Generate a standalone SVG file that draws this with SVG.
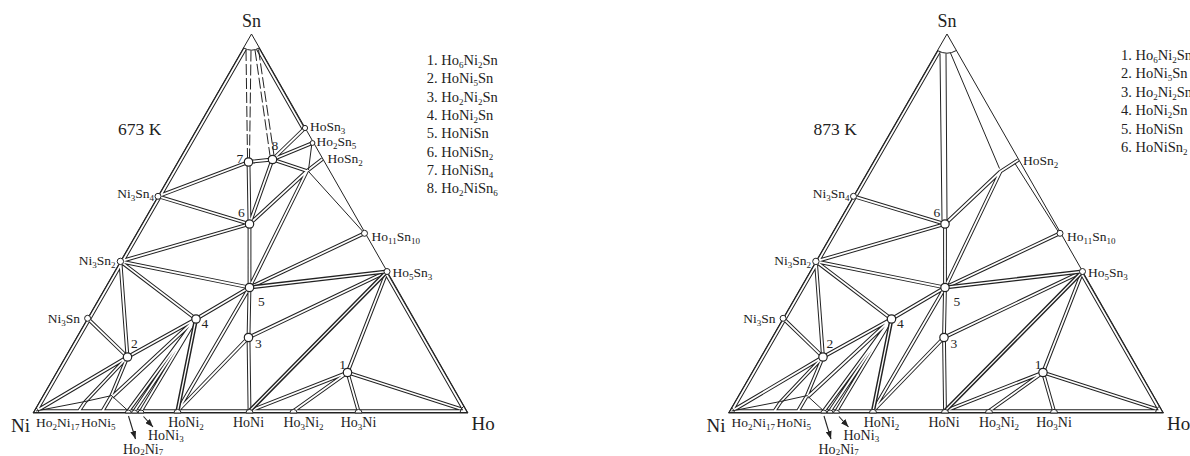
<svg xmlns="http://www.w3.org/2000/svg" xmlns:xlink="http://www.w3.org/1999/xlink" width="1190" height="456" viewBox="0 0 1190 456">
  <style>
    .lbl{font-family:"Liberation Serif","Times New Roman",serif;fill:#222}
    .t14{font-size:14px}
    .t13{font-size:13.5px}
    .big{font-size:19px}
    .num{font-size:13.5px}
    .leg{font-size:14.5px}
    .sb{font-size:9px}
    .nd{fill:#fff;stroke:#222;stroke-width:1.2}
    .bn{fill:#fff;stroke:#222;stroke-width:1}
    .thin{fill:none;stroke:#222;stroke-width:1}
    .dash{fill:none;stroke:#222;stroke-width:1;stroke-dasharray:11 3}
    .arr{fill:none;stroke:#222;stroke-width:1.1}
  </style>
  <defs>
    <marker id="ah" viewBox="0 0 8 6" refX="8" refY="3" markerWidth="8" markerHeight="6" orient="auto" markerUnits="userSpaceOnUse">
      <path d="M0,0 L8,3 L0,6 Z" fill="#222"/>
    </marker>
  </defs>
  <rect width="1190" height="456" fill="#fff"/>

  <!-- ===================== 673 K section ===================== -->
  <g id="section673">
    <g id="connectors673">
      <!-- two-phase fields drawn as double lines: dark wide stroke, then a white core -->
      <g fill="none" stroke="#222" stroke-width="3.8" stroke-linejoin="miter">
        <path id="tie673" d="M245.1,48.8 L36.1,411.2 L464.9,411.2 L385.4,272.4
          M257.8,48.8 L303.4,128.9
          M158,196.3 L248.5,162 M158,196.3 L249.5,224
          M248.5,162 L272.5,159.5 M248.5,162 L249.5,224
          M272.5,159.5 L305,128 M272.5,159.5 L312.5,143 M272.5,159.5 L307,171 M272.5,159.5 L249.5,224
          M322.5,159 L307,171
          M249.5,224 L307,171 M249.5,224 L120.4,261.4 M249.5,224 L249.5,287.5
          M307,171 L249.5,287.5
          M249.5,287.5 L364.5,233.3 M249.5,287.5 L120.4,261.4 M249.5,287.5 L196,319
          M249.5,287.5 L248.5,337.5 M249.5,287.5 L177.5,411
          M248.5,337.5 L177.5,411 M248.5,337.5 L387,271.5 M248.5,337.5 L249.5,411
          M249.5,411 L347.5,372.5 M293.5,411 L347.5,372.5 M358.5,411 L347.5,372.5
          M347.5,372.5 L387,271.5 M347.5,372.5 L461,409
          M196,319 L120.4,261.4 M196,319 L127.5,357 M196,319 L141,411 M196,319 L134.5,411
          M196,319 L128.3,411 M196,319 L112,397
          M127.5,357 L120.4,261.4 M127.5,357 L87.6,318.3 M127.5,357 L38,410
          M127.5,357 L85,402 M127.5,357 L111,396.5
          M79,411 L85,402 M102.5,411 L111,396.5"/>
      </g>
      <use xlink:href="#tie673" href="#tie673" fill="none" stroke="#fff" stroke-width="1.8"/>
      <g fill="none" stroke="#222" stroke-width="4.2">
        <path id="heavy673" d="M249.5,287.5 L387,271.5 M249.5,411 L387,271.5 M196,319 L177.5,411"/>
      </g>
      <use xlink:href="#heavy673" href="#heavy673" fill="none" stroke="#fff" stroke-width="1.3"/>
      <!-- single boundaries -->
      <path class="thin" d="M36,411 L85,401.5 L112,395.5 M112,396 L128.3,411 M311.8,144 L308.5,170 M309,172 L364.5,233.3"/>
      <!-- outline of the composition triangle -->
      <path class="thin" stroke-width="1.1" d="M251.5,34 L33,413 L468,413 Z"/>
      <!-- liquid field at the Sn corner and solid solutions at the Ni and Ho corners -->
      <path class="thin" d="M243.5,47.9 A16,16 0 0 0 259.4,47.9 M39,413 A6,6 0 0 0 36,407.8 M460,413 A8,8 0 0 1 464,406.1"/>
      <!-- tentative tie lines -->
      <path class="dash" d="M246,50 L247.5,158 M251,50.5 L249.5,158 M255,50 L270,155.5 M258.5,49.5 L274,155.5"/>
      <!-- pointers to the crowded binary compounds -->
      <path class="arr" marker-end="url(#ah)" d="M128.5,416 L135.5,439"/>
      <path class="arr" marker-end="url(#ah)" d="M143.5,416.5 L153,427"/>
    </g>

    <!-- corners -->
    <g id="c673-Sn"><text class="lbl" x="251.5" y="27" font-size="18" text-anchor="middle">Sn</text></g>
    <g id="c673-Ni"><text class="lbl big" x="11" y="432">Ni</text></g>
    <g id="c673-Ho"><text class="lbl big" x="471.5" y="430">Ho</text></g>
    <text class="lbl" x="118" y="135" font-size="17.5">673 K</text>

    <!-- binary compounds, Ni–Sn side -->
    <g id="n673-Ni3Sn4"><circle class="bn" cx="158" cy="196.3" r="3"/>
      <text class="lbl t13" x="154" y="197.5" text-anchor="end">Ni<tspan class="sb" dy="3">3</tspan><tspan dy="-3">Sn</tspan><tspan class="sb" dy="3">4</tspan></text></g>
    <g id="n673-Ni3Sn2"><circle class="bn" cx="120.4" cy="261.4" r="3.2"/>
      <text class="lbl t13" x="115.5" y="265" text-anchor="end">Ni<tspan class="sb" dy="3">3</tspan><tspan dy="-3">Sn</tspan><tspan class="sb" dy="3">2</tspan></text></g>
    <g id="n673-Ni3Sn"><circle class="bn" cx="87.6" cy="318.3" r="3"/>
      <text class="lbl t13" x="80" y="323" text-anchor="end">Ni<tspan class="sb" dy="3">3</tspan><tspan dy="-3">Sn</tspan></text></g>

    <!-- binary compounds, Ho–Sn side -->
    <g id="n673-HoSn3"><circle class="bn" cx="305" cy="128" r="2.6"/>
      <text class="lbl t13" x="310" y="131">HoSn<tspan class="sb" dy="2.5">3</tspan></text></g>
    <g id="n673-Ho2Sn5"><circle class="bn" cx="312.5" cy="143" r="2.4"/>
      <text class="lbl t13" x="316.5" y="146">Ho<tspan class="sb" dy="2.5">2</tspan><tspan dy="-2.5">Sn</tspan><tspan class="sb" dy="2.5">5</tspan></text></g>
    <g id="n673-HoSn2">
      <text class="lbl t13" x="327.5" y="163">HoSn<tspan class="sb" dy="3">2</tspan></text></g>
    <g id="n673-Ho11Sn10"><circle class="bn" cx="364.5" cy="233.3" r="3"/>
      <text class="lbl t13" x="371.5" y="240.5">Ho<tspan class="sb" dy="3">11</tspan><tspan dy="-3">Sn</tspan><tspan class="sb" dy="3">10</tspan></text></g>
    <g id="n673-Ho5Sn3"><circle class="bn" cx="387" cy="271.5" r="3"/>
      <text class="lbl t13" x="392.5" y="277">Ho<tspan class="sb" dy="3">5</tspan><tspan dy="-3">Sn</tspan><tspan class="sb" dy="3">3</tspan></text></g>

    <!-- binary compounds, Ni–Ho side -->
    <g id="n673-Ho2Ni17"><text class="lbl t13" x="36" y="426.5">Ho<tspan class="sb" dy="3">2</tspan><tspan dy="-3">Ni</tspan><tspan class="sb" dy="3">17</tspan></text></g>
    <g id="n673-HoNi5"><text class="lbl t13" x="81" y="426.5">HoNi<tspan class="sb" dy="3">5</tspan></text></g>
    <g id="n673-Ho2Ni7"><path class="bn" d="M125.3,413 A3,3 0 0 1 131.3,413 Z"/>
      <text class="lbl t14" x="123" y="453.5">Ho<tspan class="sb" dy="1.5">2</tspan><tspan dy="-1.5">Ni</tspan><tspan class="sb" dy="1.5">7</tspan></text></g>
    <g id="n673-mid"><path class="bn" d="M131.6,413 A3,3 0 0 1 137.6,413 Z"/></g>
    <g id="n673-HoNi3"><path class="bn" d="M138,413 A3,3 0 0 1 144,413 Z"/>
      <text class="lbl t14" x="148" y="439.5">HoNi<tspan class="sb" dy="2">3</tspan></text></g>
    <g id="n673-HoNi2"><path class="bn" d="M173.9,413 A3.6,3.6 0 0 1 181.1,413 Z"/>
      <text class="lbl t14" x="186" y="426.5" text-anchor="middle">HoNi<tspan class="sb" dy="3">2</tspan></text></g>
    <g id="n673-HoNi"><path class="bn" d="M245.9,413 A3.6,3.6 0 0 1 253.1,413 Z"/>
      <text class="lbl t14" x="248.5" y="426.5" text-anchor="middle">HoNi</text></g>
    <g id="n673-Ho3Ni2"><path class="bn" d="M289.9,413 A3.6,3.6 0 0 1 297.1,413 Z"/>
      <text class="lbl t14" x="303.5" y="426.5" text-anchor="middle">Ho<tspan class="sb" dy="3">3</tspan><tspan dy="-3">Ni</tspan><tspan class="sb" dy="3">2</tspan></text></g>
    <g id="n673-Ho3Ni"><path class="bn" d="M354.9,413 A3.6,3.6 0 0 1 362.1,413 Z"/>
      <text class="lbl t14" x="358.5" y="426.5" text-anchor="middle">Ho<tspan class="sb" dy="3">3</tspan><tspan dy="-3">Ni</tspan></text></g>

    <!-- ternary compounds -->
    <g id="n673-1"><circle class="nd" cx="347.5" cy="372.5" r="4.2"/><text class="lbl num" x="339.3" y="369.3">1</text></g>
    <g id="n673-2"><circle class="nd" cx="127.5" cy="357" r="4.2"/><text class="lbl num" x="131" y="348.3">2</text></g>
    <g id="n673-3"><circle class="nd" cx="248.5" cy="337.5" r="4.2"/><text class="lbl num" x="255" y="348.3">3</text></g>
    <g id="n673-4"><circle class="nd" cx="196" cy="319" r="4.2"/><text class="lbl num" x="201.5" y="328">4</text></g>
    <g id="n673-5"><circle class="nd" cx="249.5" cy="287.5" r="4.2"/><text class="lbl num" x="258" y="305.5">5</text></g>
    <g id="n673-6"><circle class="nd" cx="249.5" cy="224" r="4.2"/><text class="lbl num" x="238" y="216.5">6</text></g>
    <g id="n673-7"><circle class="nd" cx="248.5" cy="162" r="4.2"/><text class="lbl num" x="236.5" y="163">7</text></g>
    <g id="n673-8"><circle class="nd" cx="272.5" cy="159.5" r="4.2"/><text class="lbl num" x="271.5" y="150">8</text></g>

    <g id="legend673" class="lbl leg">
      <text x="426.7" y="65">1. Ho<tspan class="sb" dy="3">6</tspan><tspan dy="-3">Ni</tspan><tspan class="sb" dy="3">2</tspan><tspan dy="-3">Sn</tspan></text>
      <text x="426.7" y="83.3">2. HoNi<tspan class="sb" dy="3">5</tspan><tspan dy="-3">Sn</tspan></text>
      <text x="426.7" y="101.6">3. Ho<tspan class="sb" dy="3">2</tspan><tspan dy="-3">Ni</tspan><tspan class="sb" dy="3">2</tspan><tspan dy="-3">Sn</tspan></text>
      <text x="426.7" y="119.9">4. HoNi<tspan class="sb" dy="3">2</tspan><tspan dy="-3">Sn</tspan></text>
      <text x="426.7" y="138.2">5. HoNiSn</text>
      <text x="426.7" y="156.5">6. HoNiSn<tspan class="sb" dy="3">2</tspan></text>
      <text x="426.7" y="174.8">7. HoNiSn<tspan class="sb" dy="3">4</tspan></text>
      <text x="426.7" y="193.1">8. Ho<tspan class="sb" dy="3">2</tspan><tspan dy="-3">NiSn</tspan><tspan class="sb" dy="3">6</tspan></text>
    </g>
  </g>

  <!-- ===================== 873 K section ===================== -->
  <g id="section873" transform="translate(695.5,0)">
    <g id="connectors873">
      <g fill="none" stroke="#222" stroke-width="3.8" stroke-linejoin="miter">
        <path id="tie873" d="M243.6,51.4 L36.1,411.2 L464.9,411.2 L385.4,272.4
          M249.5,224 L158,196.3
          M322.8,160 L305,171.5
          M249.5,224 L305,171.5 M249.5,224 L120.4,261.4 M249.5,224 L249.5,287.5
          M305,171.5 L249.5,287.5
          M249.5,287.5 L364.5,233.3 M249.5,287.5 L120.4,261.4 M249.5,287.5 L196,319
          M249.5,287.5 L248.5,337.5 M249.5,287.5 L177.5,411
          M248.5,337.5 L177.5,411 M248.5,337.5 L387,271.5 M248.5,337.5 L249.5,411
          M249.5,411 L347.5,372.5 M293.5,411 L347.5,372.5 M358.5,411 L347.5,372.5
          M347.5,372.5 L387,271.5 M347.5,372.5 L461,409
          M196,319 L120.4,261.4 M196,319 L127.5,357 M196,319 L141,411 M196,319 L134.5,411
          M196,319 L128.3,411 M196,319 L112,397
          M127.5,357 L120.4,261.4 M127.5,357 L87.6,318.3 M127.5,357 L38,410
          M127.5,357 L85,402 M127.5,357 L111,396.5
          M79,411 L85,402 M102.5,411 L111,396.5"/>
      </g>
      <use xlink:href="#tie873" href="#tie873" fill="none" stroke="#fff" stroke-width="1.8"/>
      <g fill="none" stroke="#222" stroke-width="4.2">
        <path id="heavy873" d="M249.5,287.5 L387,271.5 M249.5,411 L387,271.5 M196,319 L177.5,411"/>
      </g>
      <use xlink:href="#heavy873" href="#heavy873" fill="none" stroke="#fff" stroke-width="1.3"/>
      <path class="thin" d="M36,411 L85,401.5 L112,395.5 M112,396 L128.3,411
        M244.5,53.5 L246.5,220.5 M250.5,53.5 L251.5,220
        M255,53 L304,168.5 M319.5,163.5 L363,232"/>
      <path class="thin" stroke-width="1.1" d="M251.5,34 L33,413 L468,413 Z"/>
      <path class="thin" d="M242,50.5 A19,19 0 0 0 260.9,50.5 M39,413 A6,6 0 0 0 36,407.8 M460,413 A8,8 0 0 1 464,406.1"/>
      <path class="arr" marker-end="url(#ah)" d="M128.5,416 L135.5,439"/>
      <path class="arr" marker-end="url(#ah)" d="M143.5,416.5 L153,427"/>
    </g>

    <g id="c873-Sn"><text class="lbl" x="251.5" y="27" font-size="18" text-anchor="middle">Sn</text></g>
    <g id="c873-Ni"><text class="lbl big" x="11" y="432">Ni</text></g>
    <g id="c873-Ho"><text class="lbl big" x="471.5" y="430">Ho</text></g>
    <text class="lbl" x="118" y="135" font-size="17.5">873 K</text>

    <g id="n873-Ni3Sn4"><circle class="bn" cx="158" cy="196.3" r="3"/>
      <text class="lbl t13" x="154" y="197.5" text-anchor="end">Ni<tspan class="sb" dy="3">3</tspan><tspan dy="-3">Sn</tspan><tspan class="sb" dy="3">4</tspan></text></g>
    <g id="n873-Ni3Sn2"><circle class="bn" cx="120.4" cy="261.4" r="3.2"/>
      <text class="lbl t13" x="115.5" y="265" text-anchor="end">Ni<tspan class="sb" dy="3">3</tspan><tspan dy="-3">Sn</tspan><tspan class="sb" dy="3">2</tspan></text></g>
    <g id="n873-Ni3Sn"><circle class="bn" cx="87.6" cy="318.3" r="3"/>
      <text class="lbl t13" x="80" y="323" text-anchor="end">Ni<tspan class="sb" dy="3">3</tspan><tspan dy="-3">Sn</tspan></text></g>

    <g id="n873-HoSn2">
      <text class="lbl t13" x="327.5" y="165">HoSn<tspan class="sb" dy="3">2</tspan></text></g>
    <g id="n873-Ho11Sn10"><circle class="bn" cx="364.5" cy="233.3" r="3"/>
      <text class="lbl t13" x="371.5" y="240.5">Ho<tspan class="sb" dy="3">11</tspan><tspan dy="-3">Sn</tspan><tspan class="sb" dy="3">10</tspan></text></g>
    <g id="n873-Ho5Sn3"><circle class="bn" cx="387" cy="271.5" r="3"/>
      <text class="lbl t13" x="392.5" y="277">Ho<tspan class="sb" dy="3">5</tspan><tspan dy="-3">Sn</tspan><tspan class="sb" dy="3">3</tspan></text></g>

    <g id="n873-Ho2Ni17"><text class="lbl t13" x="36" y="426.5">Ho<tspan class="sb" dy="3">2</tspan><tspan dy="-3">Ni</tspan><tspan class="sb" dy="3">17</tspan></text></g>
    <g id="n873-HoNi5"><text class="lbl t13" x="81" y="426.5">HoNi<tspan class="sb" dy="3">5</tspan></text></g>
    <g id="n873-Ho2Ni7"><path class="bn" d="M125.3,413 A3,3 0 0 1 131.3,413 Z"/>
      <text class="lbl t14" x="123" y="453.5">Ho<tspan class="sb" dy="1.5">2</tspan><tspan dy="-1.5">Ni</tspan><tspan class="sb" dy="1.5">7</tspan></text></g>
    <g id="n873-mid"><path class="bn" d="M131.6,413 A3,3 0 0 1 137.6,413 Z"/></g>
    <g id="n873-HoNi3"><path class="bn" d="M138,413 A3,3 0 0 1 144,413 Z"/>
      <text class="lbl t14" x="148" y="439.5">HoNi<tspan class="sb" dy="2">3</tspan></text></g>
    <g id="n873-HoNi2"><path class="bn" d="M173.9,413 A3.6,3.6 0 0 1 181.1,413 Z"/>
      <text class="lbl t14" x="186" y="426.5" text-anchor="middle">HoNi<tspan class="sb" dy="3">2</tspan></text></g>
    <g id="n873-HoNi"><path class="bn" d="M245.9,413 A3.6,3.6 0 0 1 253.1,413 Z"/>
      <text class="lbl t14" x="248.5" y="426.5" text-anchor="middle">HoNi</text></g>
    <g id="n873-Ho3Ni2"><path class="bn" d="M289.9,413 A3.6,3.6 0 0 1 297.1,413 Z"/>
      <text class="lbl t14" x="303.5" y="426.5" text-anchor="middle">Ho<tspan class="sb" dy="3">3</tspan><tspan dy="-3">Ni</tspan><tspan class="sb" dy="3">2</tspan></text></g>
    <g id="n873-Ho3Ni"><path class="bn" d="M354.9,413 A3.6,3.6 0 0 1 362.1,413 Z"/>
      <text class="lbl t14" x="358.5" y="426.5" text-anchor="middle">Ho<tspan class="sb" dy="3">3</tspan><tspan dy="-3">Ni</tspan></text></g>

    <g id="n873-1"><circle class="nd" cx="347.5" cy="372.5" r="4.2"/><text class="lbl num" x="339.3" y="369.3">1</text></g>
    <g id="n873-2"><circle class="nd" cx="127.5" cy="357" r="4.2"/><text class="lbl num" x="131" y="348.3">2</text></g>
    <g id="n873-3"><circle class="nd" cx="248.5" cy="337.5" r="4.2"/><text class="lbl num" x="255" y="348.3">3</text></g>
    <g id="n873-4"><circle class="nd" cx="196" cy="319" r="4.2"/><text class="lbl num" x="201.5" y="328">4</text></g>
    <g id="n873-5"><circle class="nd" cx="249.5" cy="287.5" r="4.2"/><text class="lbl num" x="258" y="305.5">5</text></g>
    <g id="n873-6"><circle class="nd" cx="249.5" cy="224" r="4.2"/><text class="lbl num" x="238" y="216.5">6</text></g>

    <g id="legend873" class="lbl leg">
      <text x="425.5" y="60">1. Ho<tspan class="sb" dy="3">6</tspan><tspan dy="-3">Ni</tspan><tspan class="sb" dy="3">2</tspan><tspan dy="-3">Sn</tspan></text>
      <text x="425.5" y="78.4">2. HoNi<tspan class="sb" dy="3">5</tspan><tspan dy="-3">Sn</tspan></text>
      <text x="425.5" y="96.8">3. Ho<tspan class="sb" dy="3">2</tspan><tspan dy="-3">Ni</tspan><tspan class="sb" dy="3">2</tspan><tspan dy="-3">Sn</tspan></text>
      <text x="425.5" y="115.2">4. HoNi<tspan class="sb" dy="3">2</tspan><tspan dy="-3">Sn</tspan></text>
      <text x="425.5" y="133.6">5. HoNiSn</text>
      <text x="425.5" y="152">6. HoNiSn<tspan class="sb" dy="3">2</tspan></text>
    </g>
  </g>
</svg>
